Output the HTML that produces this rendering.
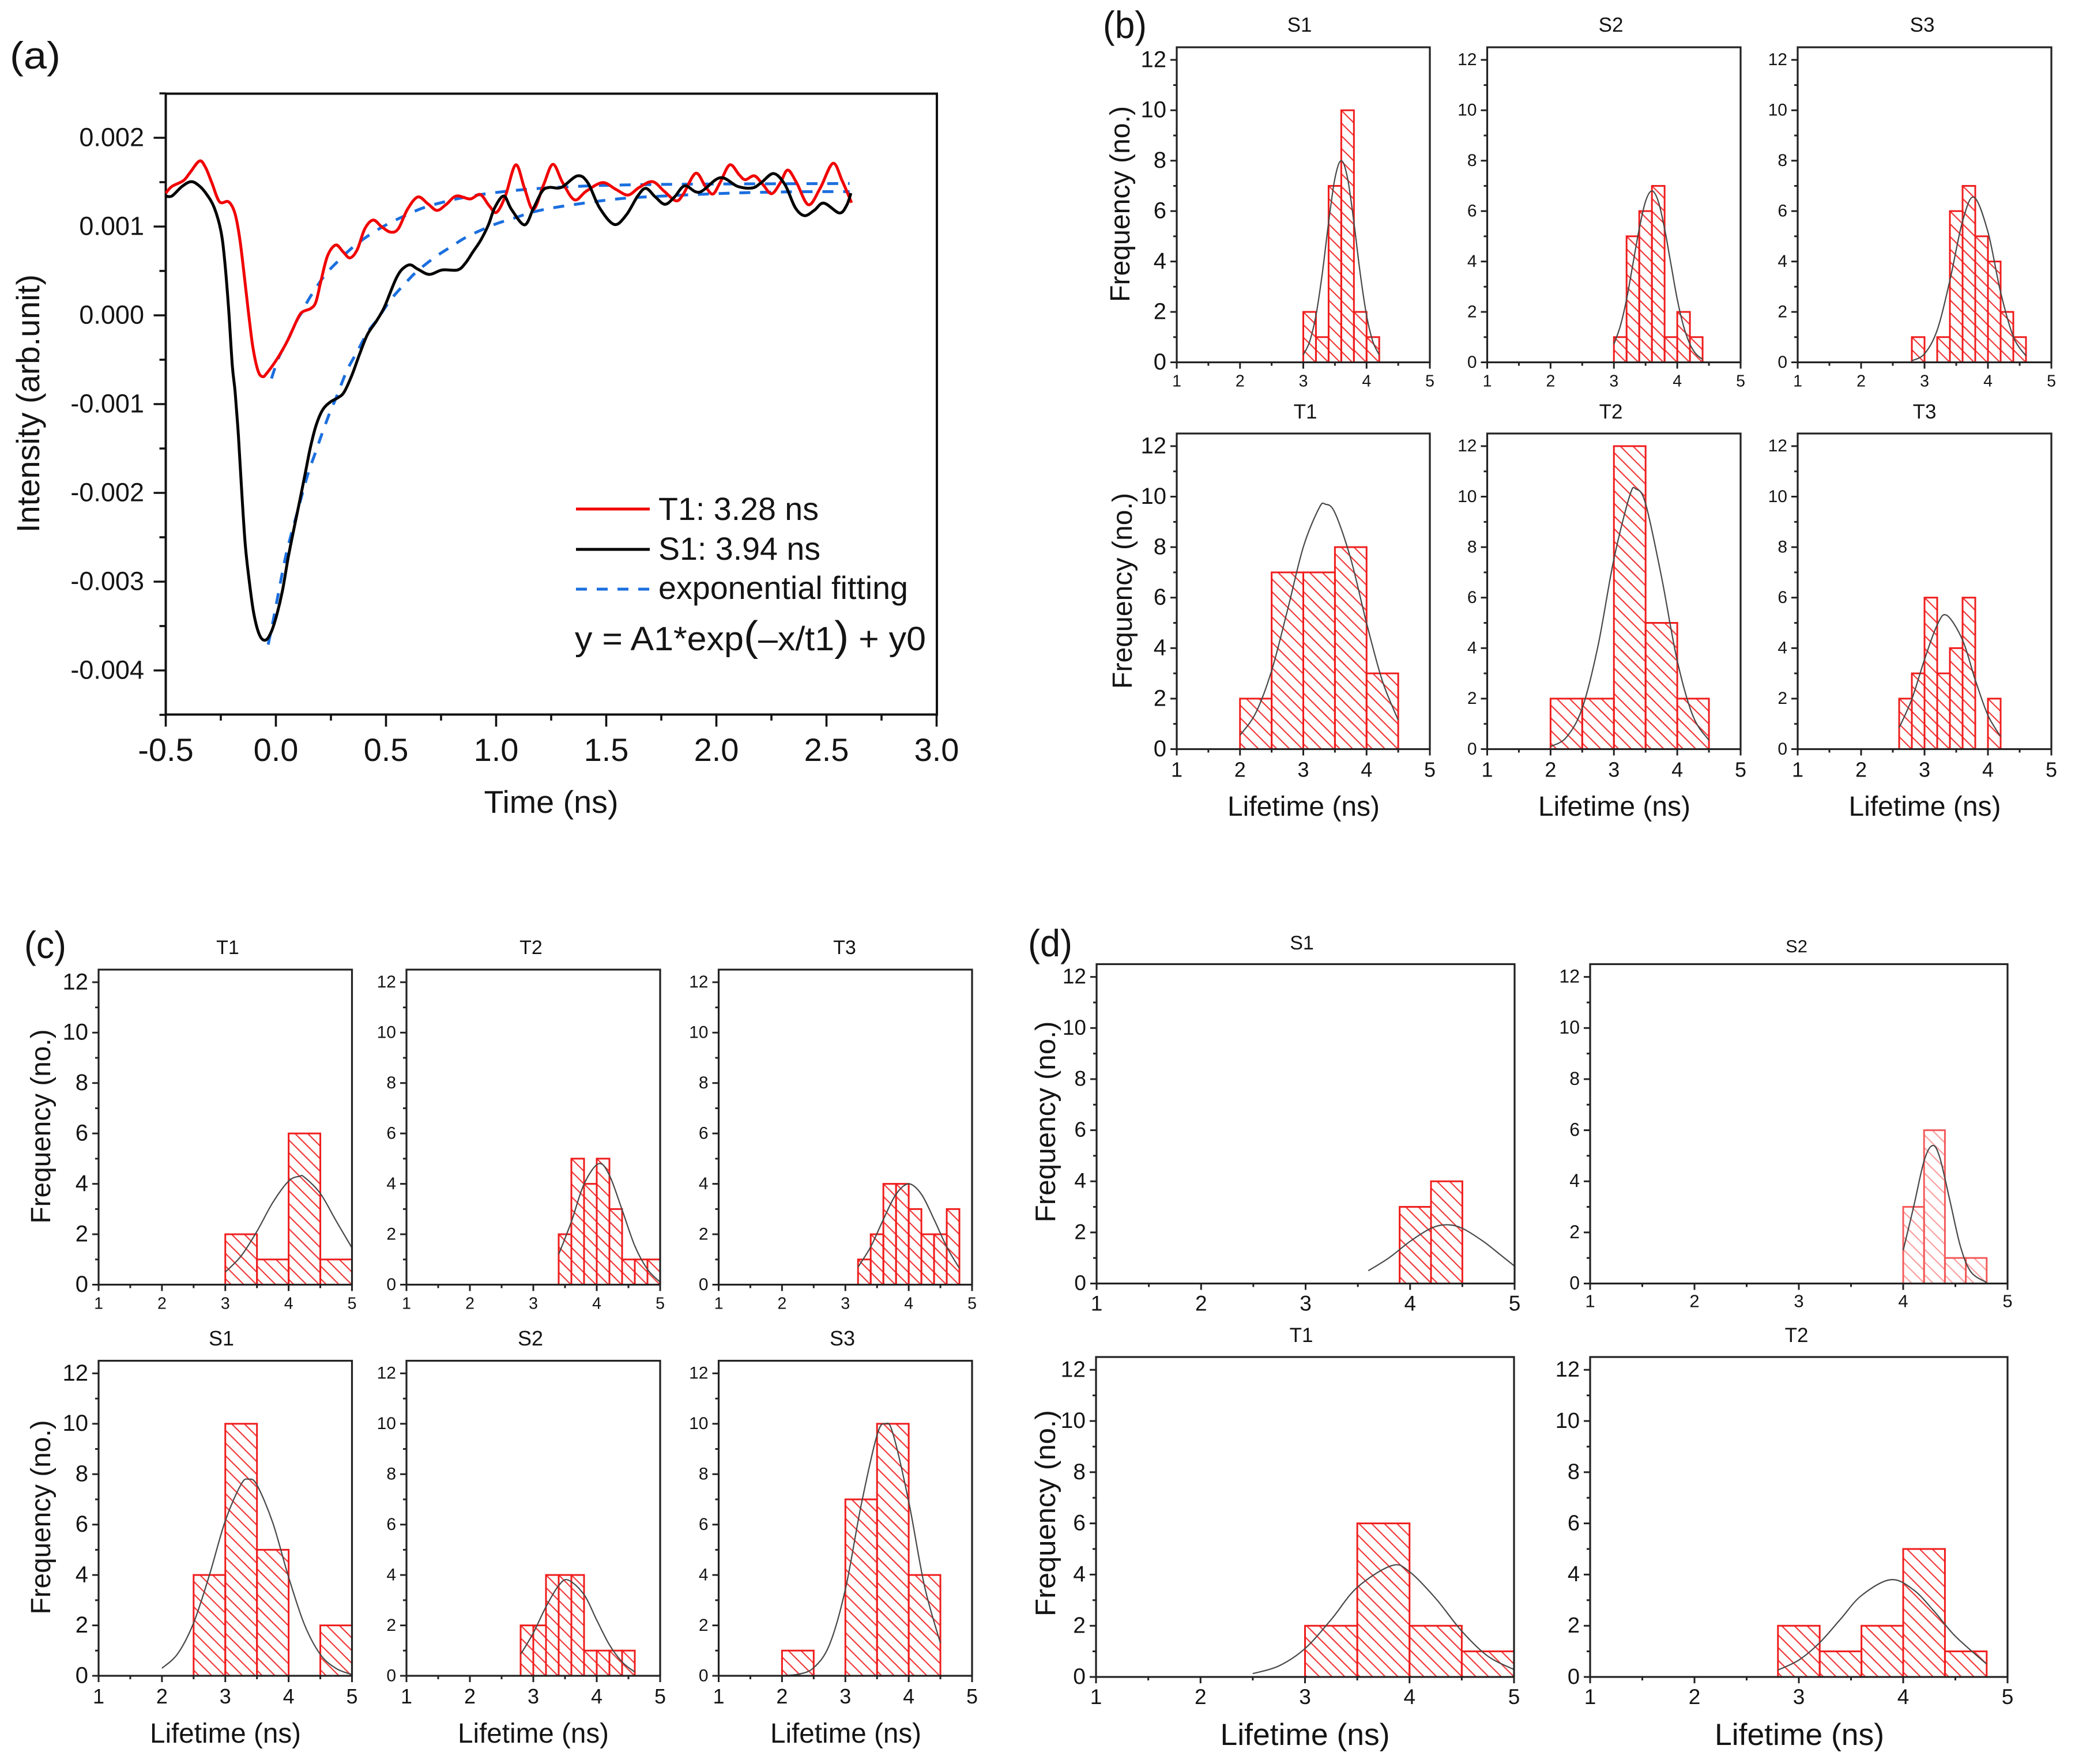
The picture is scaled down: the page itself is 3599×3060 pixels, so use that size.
<!DOCTYPE html>
<html lang="en">
<head>
<meta charset="utf-8">
<title>Lifetime fits and histograms</title>
<style>
html,body{margin:0;padding:0;background:#fff}
svg{display:block}
text{font-family:"Liberation Sans",Arial,sans-serif;fill:#141414}
</style>
</head>
<body>
<svg id="fig" xmlns="http://www.w3.org/2000/svg" width="3599" height="3060" viewBox="0 0 3599 3060">
<rect width="3599" height="3060" fill="#fff"/>
<g id="root"></g>
</svg>
<script>
// ---------- Panel (a) data: time in ns, intensity in units of 0.001 ----------
const aXTicks = [-0.5, 0, 0.5, 1, 1.5, 2, 2.5, 3];
const aXTickLabels = ['-0.5', '0.0', '0.5', '1.0', '1.5', '2.0', '2.5', '3.0'];
const aYTicks = [2, 1, 0, -1, -2, -3, -4];
const aYTickLabels = ['0.002', '0.001', '0.000', '-0.001', '-0.002', '-0.003', '-0.004'];
const t1Time = [-0.5,-0.472,-0.42,-0.391,-0.347,-0.32,-0.291,-0.256,-0.215,-0.186,-0.163,-0.139,-0.122,-0.104,-0.081,-0.06,-0.04,0.007,0.054,0.094,0.118,0.159,0.182,0.205,0.235,0.272,0.305,0.336,0.369,0.404,0.442,0.48,0.521,0.556,0.597,0.644,0.69,0.731,0.772,0.819,0.882,0.928,0.968,1.002,1.042,1.089,1.129,1.169,1.216,1.258,1.302,1.356,1.409,1.483,1.543,1.599,1.65,1.71,1.763,1.817,1.85,1.906,1.95,1.984,2.017,2.061,2.104,2.131,2.173,2.211,2.251,2.291,2.324,2.364,2.418,2.471,2.529,2.571,2.614];
const t1Intensity = [1.376,1.452,1.517,1.604,1.738,1.669,1.495,1.279,1.279,1.149,0.846,0.348,-0.02,-0.366,-0.626,-0.691,-0.648,-0.485,-0.28,-0.063,0.034,0.078,0.153,0.391,0.673,0.792,0.716,0.647,0.738,0.976,1.073,0.998,0.937,0.976,1.192,1.333,1.257,1.182,1.246,1.344,1.311,1.361,1.236,1.16,1.344,1.695,1.43,1.192,1.474,1.701,1.495,1.301,1.398,1.495,1.42,1.355,1.441,1.506,1.398,1.29,1.366,1.6,1.452,1.366,1.495,1.695,1.582,1.528,1.571,1.474,1.37,1.495,1.636,1.495,1.246,1.43,1.712,1.517,1.268];
const s1Time = [-0.5,-0.472,-0.426,-0.385,-0.35,-0.315,-0.28,-0.25,-0.233,-0.215,-0.198,-0.185,-0.17,-0.157,-0.14,-0.123,-0.101,-0.075,-0.048,-0.022,0.004,0.03,0.056,0.082,0.109,0.135,0.157,0.183,0.213,0.248,0.283,0.31,0.346,0.381,0.416,0.457,0.492,0.527,0.55,0.574,0.609,0.644,0.696,0.755,0.825,0.86,0.895,0.93,0.965,0.994,1.035,1.07,1.129,1.169,1.209,1.242,1.296,1.369,1.416,1.469,1.536,1.59,1.643,1.68,1.723,1.767,1.81,1.857,1.923,2.017,2.097,2.164,2.204,2.26,2.311,2.358,2.4,2.444,2.488,2.558,2.591,2.611];
const s1Intensity = [1.344,1.344,1.452,1.506,1.463,1.366,1.214,0.954,0.63,0.088,-0.561,-0.864,-1.36,-1.907,-2.553,-2.951,-3.349,-3.597,-3.659,-3.572,-3.374,-3.1,-2.727,-2.404,-2.081,-1.758,-1.485,-1.236,-1.062,-0.975,-0.926,-0.864,-0.669,-0.431,-0.215,-0.063,0.089,0.305,0.435,0.521,0.569,0.521,0.461,0.511,0.511,0.586,0.716,0.846,1.019,1.214,1.344,1.192,1.019,1.203,1.398,1.441,1.441,1.571,1.495,1.214,1.024,1.127,1.344,1.43,1.333,1.251,1.333,1.459,1.387,1.55,1.452,1.435,1.495,1.597,1.474,1.214,1.123,1.182,1.264,1.153,1.236,1.376];
const t1FitTime = [-0.02,0.013,0.05,0.094,0.118,0.153,0.217,0.264,0.346,0.428,0.509,0.591,0.673,0.766,0.842,0.975,1.162,1.403,1.59,1.91,2.605];
const t1FitIntensity = [-0.712,-0.474,-0.3,-0.063,0.034,0.197,0.435,0.565,0.76,0.911,1.03,1.128,1.214,1.279,1.322,1.376,1.424,1.456,1.469,1.478,1.485];
const s1FitTime = [-0.035,-0.013,0.008,0.048,0.096,0.143,0.183,0.209,0.248,0.27,0.322,0.369,0.416,0.462,0.521,0.591,0.638,0.72,0.801,0.868,0.988,1.082,1.162,1.256,1.349,1.443,1.536,1.643,1.91,2.124,2.378,2.605];
const s1FitIntensity = [-3.709,-3.448,-3.175,-2.678,-2.23,-1.808,-1.522,-1.336,-1.075,-0.95,-0.626,-0.41,-0.193,-0.041,0.175,0.37,0.489,0.651,0.781,0.885,1.019,1.095,1.16,1.21,1.246,1.279,1.307,1.329,1.361,1.381,1.392,1.394];

// ---------- Histogram axes ----------
const histXTicks = [1, 2, 3, 4, 5];
const histYTicks = [0, 2, 4, 6, 8, 10, 12];

// ---------- Panel (b) ----------
const bS1Edges = [3,3.2,3.4,3.6,3.8,4,4.2];
const bS1Counts = [2,1,7,10,2,1];
const bS1FitX = [3,3.1,3.2,3.3,3.4,3.5,3.6,3.7,3.8,3.9,4,4.1,4.2];
const bS1FitY = [0.3,0.82,1.86,3.52,5.55,7.3,8,7.3,5.55,3.52,1.86,0.82,0.3];
const bS2Edges = [3,3.2,3.4,3.6,3.8,4,4.2,4.4];
const bS2Counts = [1,5,6,7,1,2,1];
const bS2FitX = [3,3.1,3.2,3.3,3.4,3.5,3.6,3.7,3.8,3.9,4,4.1,4.2,4.3,4.4];
const bS2FitY = [0.72,1.43,2.5,3.9,5.3,6.39,6.8,6.39,5.3,3.9,2.5,1.43,0.72,0.32,0.12];
const bS3Edges = [2.8,3,3.2,3.4,3.6,3.8,4,4.2,4.4,4.6];
const bS3Counts = [1,0,1,6,7,5,4,2,1];
const bS3FitX = [2.8,3,3.2,3.4,3.6,3.78,4,4.2,4.4,4.6];
const bS3FitY = [0.06,0.34,1.28,3.25,5.6,6.55,5.17,2.78,1.02,0.25];
const bT1Edges = [2,2.5,3,3.5,4,4.5];
const bT1Counts = [2,7,7,8,3];
const bT1FitX = [2,2.25,2.5,2.75,3,3.25,3.35,3.5,3.75,4,4.25,4.5];
const bT1FitY = [0.55,1.44,3.11,5.5,8,9.55,9.7,9.36,7.54,4.99,2.7,1.15];
const bT2Edges = [2,2.5,3,3.5,4,4.5];
const bT2Counts = [2,2,12,5,2];
const bT2FitX = [2,2.25,2.5,2.75,3,3.25,3.35,3.5,3.75,4,4.25,4.5];
const bT2FitY = [0.1,0.47,1.62,4.1,7.53,10.04,10.3,9.72,6.84,3.5,1.3,0.35];
const bT3Edges = [2.6,2.8,3,3.2,3.4,3.6,3.8,4,4.2];
const bT3Counts = [2,3,6,3,4,6,0,2];
const bT3FitX = [2.6,2.8,3,3.2,3.35,3.6,3.8,4,4.2];
const bT3FitY = [0.85,1.98,3.55,4.92,5.3,4.32,2.74,1.34,0.5];

// ---------- Panel (c) ----------
const cT1Edges = [3,3.5,4,4.5,5];
const cT1Counts = [2,1,6,1];
const cT1FitX = [3,3.25,3.5,3.75,4,4.17,4.25,4.5,4.75,5];
const cT1FitY = [0.5,1.14,2.12,3.26,4.11,4.3,4.26,3.62,2.53,1.46];
const cT2Edges = [3.4,3.6,3.8,4,4.2,4.4,4.6,4.8,5];
const cT2Counts = [2,5,4,5,3,1,1,1];
const cT2FitX = [3.4,3.6,3.8,4.03,4.2,4.4,4.6,4.8,5];
const cT2FitY = [1.2,2.5,3.99,4.8,4.34,2.97,1.54,0.61,0.1];
const cT3Edges = [3.2,3.4,3.6,3.8,4,4.2,4.4,4.6,4.8];
const cT3Counts = [1,2,4,4,3,2,2,3];
const cT3FitX = [3.2,3.4,3.6,3.8,4,4.2,4.4,4.6,4.8];
const cT3FitY = [0.7,1.5,2.59,3.59,4,3.59,2.59,1.5,0.65];
const cS1Edges = [2.5,3,3.5,4,4.5,5];
const cS1Counts = [4,10,5,0,2];
const cS1FitX = [2,2.25,2.5,2.75,3,3.25,3.37,3.5,3.75,4,4.25,4.5,4.75,5];
const cS1FitY = [0.3,0.88,2.1,4,6.15,7.6,7.8,7.57,6.07,3.91,2.03,0.85,0.29,0.05];
const cS2Edges = [2.8,3,3.2,3.4,3.6,3.8,4,4.2,4.4,4.6];
const cS2Counts = [2,2,4,4,4,1,1,1,1];
const cS2FitX = [2.8,3,3.2,3.4,3.55,3.8,4,4.2,4.4,4.6];
const cS2FitY = [0.85,1.7,2.74,3.58,3.8,3.22,2.21,1.23,0.55,0.15];
const cS3Edges = [2,2.5,3,3.5,4,4.5];
const cS3Counts = [1,0,7,10,4];
const cS3FitX = [2,2.25,2.5,2.75,3,3.25,3.5,3.63,3.75,4,4.25,4.5];
const cS3FitY = [0.01,0.06,0.32,1.24,3.43,6.78,9.55,10,9.62,6.91,3.55,1.3];

// ---------- Panel (d) ----------
const dS1Edges = [3.9,4.2,4.5];
const dS1Counts = [3,4];
const dS1FitX = [3.6,3.8,4,4.2,4.35,4.5,4.7,4.85,5];
const dS1FitY = [0.5,1.01,1.65,2.16,2.3,2.16,1.65,1.17,0.68];
const dS2Edges = [4,4.2,4.4,4.6,4.8];
const dS2Counts = [3,6,1,1];
const dS2FitX = [4,4.1,4.2,4.28,4.35,4.45,4.55,4.65,4.8];
const dS2FitY = [1.3,3,4.8,5.4,4.94,3.2,1.43,0.45,0.04];
const dT1Edges = [3,3.5,4,4.5,5];
const dT1Counts = [2,6,2,1];
const dT1FitX = [2.5,2.75,3,3.25,3.5,3.83,4,4.25,4.5,4.75,5];
const dT1FitY = [0.13,0.43,1.11,2.24,3.5,4.35,4.11,3.07,1.79,0.81,0.29];
const dT2Edges = [2.8,3.2,3.6,4,4.4,4.8];
const dT2Counts = [2,1,2,5,1];
const dT2FitX = [2.8,3,3.2,3.4,3.6,3.88,4.1,4.3,4.5,4.8];
const dT2FitY = [0.27,0.66,1.34,2.26,3.18,3.8,3.4,2.55,1.59,0.5];

// ---------- Helpers ----------
const NS = 'http://www.w3.org/2000/svg';
const root = document.getElementById('root');
function mk(tag, attrs, parent) {
  const el = document.createElementNS(NS, tag);
  for (const k in attrs) el.setAttribute(k, attrs[k]);
  (parent || root).appendChild(el);
  return el;
}
function smoothPath(pts) {
  let d = 'M' + pts[0][0].toFixed(2) + ',' + pts[0][1].toFixed(2);
  for (let i = 0; i < pts.length - 1; i++) {
    const p0 = pts[Math.max(i - 1, 0)], p1 = pts[i], p2 = pts[i + 1], p3 = pts[Math.min(i + 2, pts.length - 1)];
    const c1x = p1[0] + (p2[0] - p0[0]) / 6, c1y = p1[1] + (p2[1] - p0[1]) / 6;
    const c2x = p2[0] - (p3[0] - p1[0]) / 6, c2y = p2[1] - (p3[1] - p1[1]) / 6;
    d += 'C' + c1x.toFixed(2) + ',' + c1y.toFixed(2) + ' ' + c2x.toFixed(2) + ',' + c2y.toFixed(2) + ' ' + p2[0].toFixed(2) + ',' + p2[1].toFixed(2);
  }
  return d;
}
function label(txt, x, y, size, anchor, len) {
  const attrs = {x: x, y: y, 'font-size': size, 'text-anchor': anchor || 'middle'};
  if (len) { attrs.textLength = len; attrs.lengthAdjust = 'spacingAndGlyphs'; }
  const el = mk('text', attrs);
  el.textContent = txt;
  return el;
}
function vlabel(txt, x, cy, size, len) {
  const el = mk('text', {transform: 'translate(' + x + ',' + cy + ') rotate(-90)', 'font-size': size, 'text-anchor': 'middle', textLength: len, lengthAdjust: 'spacingAndGlyphs'});
  el.textContent = txt;
  return el;
}
// Hatch segments for one bar: 45-degree lines anchored to the bar's top-left corner
function hatchPath(x0, x1, top, base) {
  const step = 22;
  let d = '';
  const w = x1 - x0, h = base - top;
  for (let c = -w; c < h; c += step) {
    // line: y = top + c + (x - x0)
    const sx0 = Math.max(0, -c), sx1 = Math.min(w, h - c);
    if (sx1 <= sx0) continue;
    d += 'M' + (x0 + sx0).toFixed(2) + ',' + (top + c + sx0).toFixed(2) + 'L' + (x0 + sx1).toFixed(2) + ',' + (top + c + sx1).toFixed(2);
  }
  return d;
}

// ---------- Panel (a) ----------
(function () {
  const L = 287.5, R = 1625, T = 162.5, B = 1239.5;
  const sx = t => 478.5 + t * 382;
  const sy = v => 547 - v * 154;
  let el;

  el = mk('rect', {x: L, y: T, width: R - L, height: B - T, fill: 'none', stroke: '#111', 'stroke-width': 4});
  
  

  aXTicks.forEach((t, i) => {
    const tick = mk('line', {x1: sx(t), x2: sx(t), y1: B, y2: B + 21, stroke: '#111', 'stroke-width': 3.6});
    
    
    const lab = label(aXTickLabels[i], sx(t), 1320, 56);
    
    
    if (i < aXTicks.length - 1) {
      const minor = mk('line', {x1: sx(t + 0.25), x2: sx(t + 0.25), y1: B, y2: B + 10.5, stroke: '#111', 'stroke-width': 3.6});
      
      
    }
  });
  aYTicks.forEach((v, i) => {
    const tick = mk('line', {x1: L - 21, x2: L, y1: sy(v), y2: sy(v), stroke: '#111', 'stroke-width': 3.6});
    
    
    const lab = label(aYTickLabels[i], 250, sy(v) + 14.5, 45, 'end');
    
    
    const minor = mk('line', {x1: L - 11, x2: L, y1: sy(v + 0.5), y2: sy(v + 0.5), stroke: '#111', 'stroke-width': 3.6});
    
    
  });
  const lastMinor = mk('line', {x1: L - 11, x2: L, y1: sy(aYTicks[aYTicks.length - 1] - 0.5), y2: sy(aYTicks[aYTicks.length - 1] - 0.5), stroke: '#111', 'stroke-width': 3.6});
  
  

  const fitA = mk('path', {d: smoothPath(t1FitTime.map((t, i) => [sx(t), sy(t1FitIntensity[i])])), fill: 'none', stroke: '#1b6fdf', 'stroke-width': 5, 'stroke-dasharray': '19 17'});
  
  
  const fitB = mk('path', {d: smoothPath(s1FitTime.map((t, i) => [sx(t), sy(s1FitIntensity[i])])), fill: 'none', stroke: '#1b6fdf', 'stroke-width': 5, 'stroke-dasharray': '19 17'});
  
  
  const lineT = mk('path', {d: smoothPath(t1Time.map((t, i) => [sx(t), sy(t1Intensity[i])])), fill: 'none', stroke: '#f00000', 'stroke-width': 5, 'stroke-linejoin': 'round'});
  
  
  const lineS = mk('path', {d: smoothPath(s1Time.map((t, i) => [sx(t), sy(s1Intensity[i])])), fill: 'none', stroke: '#000', 'stroke-width': 5, 'stroke-linejoin': 'round'});
  
  

  el = label('Time (ns)', 956, 1410, 55, 'middle', 233);
  
  
  el = vlabel('Intensity (arb.unit)', 68, 700, 56, 448);
  
  

  el = mk('line', {x1: 999, x2: 1127, y1: 883, y2: 883, stroke: '#f00000', 'stroke-width': 5});
  
  
  el = mk('line', {x1: 999, x2: 1127, y1: 953, y2: 953, stroke: '#000', 'stroke-width': 5});
  
  
  el = mk('line', {x1: 999, x2: 1127, y1: 1022, y2: 1022, stroke: '#1b6fdf', 'stroke-width': 5, 'stroke-dasharray': '19 17'});
  
  
  el = label('T1: 3.28 ns', 1142, 902, 56, 'start', 278);
  
  
  el = label('S1: 3.94 ns', 1142, 971, 56, 'start', 281);
  
  
  el = label('exponential fitting', 1142, 1039, 56, 'start', 433);
  
  

  el = mk('text', {x: 997, y: 1128, 'font-size': 58, 'text-anchor': 'start', textLength: 609, lengthAdjust: 'spacingAndGlyphs'});
  
  
  mk('tspan', {}, el).textContent = 'y = A1*exp';
  mk('tspan', {'font-size': 72}, el).textContent = '(';
  mk('tspan', {}, el).textContent = '\u2013x/t1';
  mk('tspan', {'font-size': 72}, el).textContent = ')';
  mk('tspan', {}, el).textContent = ' + y0';
})();

// ---------- Panel letters ----------
(function () {
  let el;
  el = label('(a)', 17, 119, 66, 'start', 88);
  
  
  el = label('(b)', 1913, 66, 66, 'start', 76);
  
  
  el = label('(c)', 42, 1662, 66, 'start', 73);
  
  
  el = label('(d)', 1783, 1659, 66, 'start', 77);
  
  
})();

// ---------- Histogram subplot ----------
function hist(o) {
  const L = o.box[0], R = o.box[1], T = o.box[2], B = o.box[3];
  const sx = v => L + (v - 1) * (R - L) / 4;
  const sy = v => B - v * (B - T) / 12.5;
  const bars = mk('g', {});
  
  
  o.counts.forEach((c, i) => {
    if (c <= 0) return;
    const x0 = sx(o.edges[i]), x1 = sx(o.edges[i + 1]);
    const hatch = mk('path', {d: hatchPath(x0, x1, sy(c), sy(0)), fill: 'none', stroke: o.pale ? '#f9a0a0' : '#f23a3a', 'stroke-width': 2.2}, bars);
    
    
    const bar = mk('rect', {x: x0, y: sy(c), width: x1 - x0, height: sy(0) - sy(c), fill: 'none', stroke: o.pale ? '#f45a5a' : '#f01c1c', 'stroke-width': 3}, bars);
    
    
  });
  const fit = mk('path', {d: smoothPath(o.fitX.map((x, i) => [sx(x), sy(o.fitY[i])])), fill: 'none', stroke: '#484848', 'stroke-width': 2.2});
  
  

  const frame = mk('rect', {x: L, y: T, width: R - L, height: B - T, fill: 'none', stroke: '#222', 'stroke-width': 3.2});
  
  

  histXTicks.forEach((v, i) => {
    const tick = mk('line', {x1: sx(v), x2: sx(v), y1: B, y2: B + 11, stroke: '#222', 'stroke-width': 3});
    
    
    const lab = label(String(v), sx(v), B + o.xBase, o.xSize);
    
    
    if (i < histXTicks.length - 1) {
      const minor = mk('line', {x1: sx(v + 0.5), x2: sx(v + 0.5), y1: B, y2: B + 6, stroke: '#222', 'stroke-width': 3});
      
      
    }
  });
  histYTicks.forEach((v, i) => {
    const tick = mk('line', {x1: L - 11, x2: L, y1: sy(v), y2: sy(v), stroke: '#222', 'stroke-width': 3});
    
    
    const lab = label(String(v), L - 18, sy(v) + o.ySize * 0.31, o.ySize, 'end');
    
    
    if (i < histYTicks.length - 1) {
      const minor = mk('line', {x1: L - 6, x2: L, y1: sy(v + 1), y2: sy(v + 1), stroke: '#222', 'stroke-width': 3});
      
      
    }
  });
  const title = label(o.title, o.titlePos[0], o.titlePos[1], o.titleSize);
  
  
  if (o.xTitle) {
    const xt = label('Lifetime (ns)', o.xTitle[0], o.xTitle[1], o.xTitle[3], 'middle', o.xTitle[2]);
    
    
  }
  if (o.yTitle) {
    const yt = vlabel('Frequency (no.)', o.yTitle[0], o.yTitle[1], o.yTitle[3], o.yTitle[2]);
    
    
  }
}

// Panel (b)
hist({edges: bS1Edges, counts: bS1Counts, fitX: bS1FitX, fitY: bS1FitY, box: [2041, 2480, 82, 628.5], title: 'S1', titlePos: [2254, 55], titleSize: 35, xBase: 42, xSize: 28.5, ySize: 40, yTitle: [1959, 354, 340, 48]});
hist({edges: bS2Edges, counts: bS2Counts, fitX: bS2FitX, fitY: bS2FitY, box: [2579.5, 3019, 82, 628.5], title: 'S2', titlePos: [2794, 55], titleSize: 35, xBase: 42, xSize: 28.5, ySize: 30});
hist({edges: bS3Edges, counts: bS3Counts, fitX: bS3FitX, fitY: bS3FitY, box: [3118, 3558, 82, 628.5], title: 'S3', titlePos: [3334, 55], titleSize: 35, xBase: 42, xSize: 28.5, ySize: 30});
hist({edges: bT1Edges, counts: bT1Counts, fitX: bT1FitX, fitY: bT1FitY, box: [2041, 2480, 752, 1299.5], title: 'T1', titlePos: [2264, 726], titleSize: 35, xBase: 48, xSize: 36, ySize: 40, yTitle: [1963, 1025, 340, 48], xTitle: [2261, 1415, 264, 48]});
hist({edges: bT2Edges, counts: bT2Counts, fitX: bT2FitX, fitY: bT2FitY, box: [2579.5, 3019, 752, 1299.5], title: 'T2', titlePos: [2794, 726], titleSize: 35, xBase: 48, xSize: 36, ySize: 30, xTitle: [2800, 1415, 264, 48]});
hist({edges: bT3Edges, counts: bT3Counts, fitX: bT3FitX, fitY: bT3FitY, box: [3118, 3558, 752, 1299.5], title: 'T3', titlePos: [3338, 726], titleSize: 35, xBase: 48, xSize: 36, ySize: 30, xTitle: [3338.5, 1415, 264, 48]});

// Panel (c)
hist({edges: cT1Edges, counts: cT1Counts, fitX: cT1FitX, fitY: cT1FitY, box: [171, 610.5, 1682, 2228.5], title: 'T1', titlePos: [395, 1655], titleSize: 34, xBase: 42, xSize: 28.5, ySize: 40, yTitle: [87, 1954, 337, 48]});
hist({edges: cT2Edges, counts: cT2Counts, fitX: cT2FitX, fitY: cT2FitY, box: [705, 1145, 1682, 2228.5], title: 'T2', titlePos: [921, 1655], titleSize: 34, xBase: 42, xSize: 28.5, ySize: 30});
hist({edges: cT3Edges, counts: cT3Counts, fitX: cT3FitX, fitY: cT3FitY, box: [1246.5, 1686, 1682, 2228.5], title: 'T3', titlePos: [1465, 1655], titleSize: 34, xBase: 42, xSize: 28.5, ySize: 30});
hist({edges: cS1Edges, counts: cS1Counts, fitX: cS1FitX, fitY: cS1FitY, box: [171, 610.5, 2360.5, 2907], title: 'S1', titlePos: [384, 2334], titleSize: 36, xBase: 48, xSize: 36, ySize: 40, yTitle: [87, 2632, 337, 48], xTitle: [391, 3023, 262, 48]});
hist({edges: cS2Edges, counts: cS2Counts, fitX: cS2FitX, fitY: cS2FitY, box: [705, 1145, 2360.5, 2907], title: 'S2', titlePos: [920, 2334], titleSize: 36, xBase: 48, xSize: 36, ySize: 30, xTitle: [925, 3023, 262, 48]});
hist({edges: cS3Edges, counts: cS3Counts, fitX: cS3FitX, fitY: cS3FitY, box: [1246.5, 1686, 2360.5, 2907], title: 'S3', titlePos: [1461, 2334], titleSize: 36, xBase: 48, xSize: 36, ySize: 30, xTitle: [1467, 3023, 262, 48]});

// Panel (d)
hist({edges: dS1Edges, counts: dS1Counts, fitX: dS1FitX, fitY: dS1FitY, box: [1902, 2627, 1672.5, 2226.5], title: 'S1', titlePos: [2258, 1647], titleSize: 34, xBase: 47, xSize: 37, ySize: 37, yTitle: [1830, 1946, 349, 49]});
hist({edges: dS2Edges, counts: dS2Counts, fitX: dS2FitX, fitY: dS2FitY, box: [2758, 3482, 1672.5, 2226.5], title: 'S2', titlePos: [3116, 1652], titleSize: 31, xBase: 41, xSize: 31, ySize: 32, pale: true});
hist({edges: dT1Edges, counts: dT1Counts, fitX: dT1FitX, fitY: dT1FitY, box: [1901, 2626, 2354, 2909], title: 'T1', titlePos: [2257, 2328], titleSize: 35, xBase: 47, xSize: 37, ySize: 39, yTitle: [1830, 2625, 358, 49], xTitle: [2263.5, 3027, 294, 53]});
hist({edges: dT2Edges, counts: dT2Counts, fitX: dT2FitX, fitY: dT2FitY, box: [2758, 3482, 2354, 2909], title: 'T2', titlePos: [3116, 2328], titleSize: 35, xBase: 47, xSize: 37, ySize: 38, xTitle: [3121, 3027, 294, 53]});
</script>
</body>
</html>
